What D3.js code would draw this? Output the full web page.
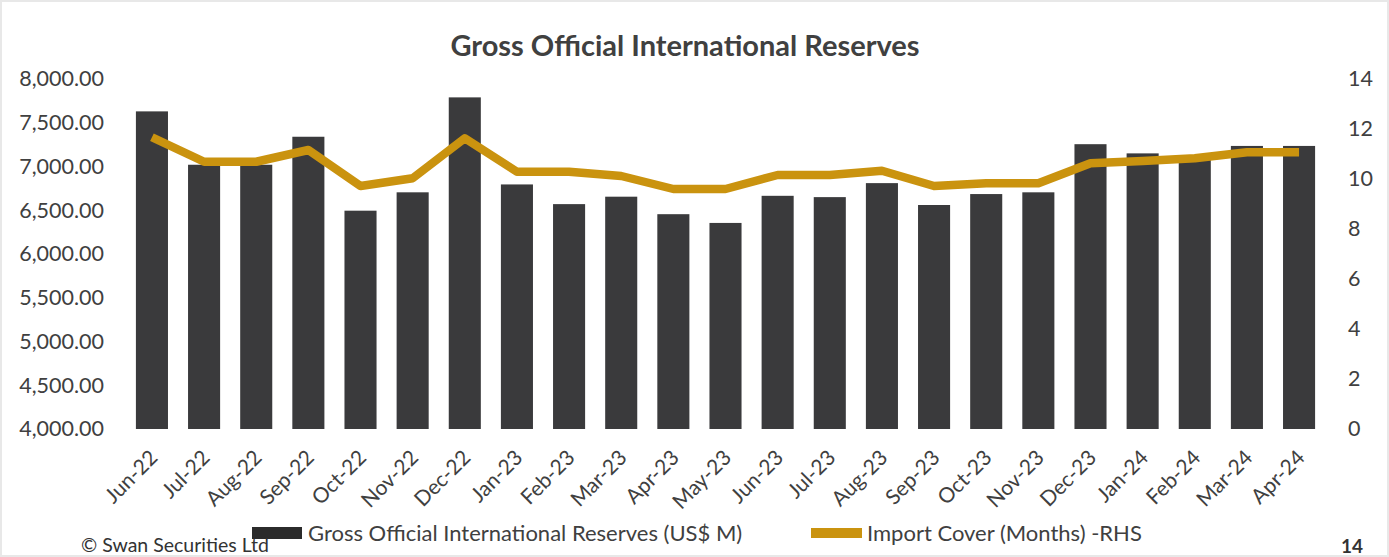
<!DOCTYPE html>
<html>
<head>
<meta charset="utf-8">
<script src="https://cdn.jsdelivr.net/npm/d3@7/dist/d3.min.js"></script>
<style>
  html, body { margin: 0; padding: 0; background: #ffffff; }
  svg { display: block; }
  text { font-family: Lato, "Open Sans", sans-serif; }
</style>
</head>
<body>
<svg id="chart" width="1389" height="557"></svg>
<script>
// Monthly categories
const months = ["Jun-22","Jul-22","Aug-22","Sep-22","Oct-22","Nov-22","Dec-22",
  "Jan-23","Feb-23","Mar-23","Apr-23","May-23","Jun-23","Jul-23","Aug-23",
  "Sep-23","Oct-23","Nov-23","Dec-23","Jan-24","Feb-24","Mar-24","Apr-24"];

// Gross official international reserves, US$ M (left axis)
const reserves = [7630, 7020, 7020, 7340, 6495, 6705, 7790,
  6795, 6570, 6655, 6455, 6355, 6665, 6650, 6810,
  6560, 6685, 6705, 7255, 7150, 7090, 7235, 7235];

// Import cover in months (right axis)
const importCover = [11.67, 10.69, 10.69, 11.16, 9.72, 10.03, 11.63,
  10.29, 10.29, 10.12, 9.6, 9.6, 10.16, 10.16, 10.33,
  9.72, 9.83, 9.83, 10.63, 10.72, 10.83, 11.07, 11.07];

const leftTicks = [4000, 4500, 5000, 5500, 6000, 6500, 7000, 7500, 8000];
const rightTicks = [0, 2, 4, 6, 8, 10, 12, 14];

const title = "Gross Official International Reserves";
const seriesNames = ["Gross Official International Reserves (US$ M)", "Import Cover (Months) -RHS"];

const barColor = "#3a3a3c";
const lineColor = "#ca930f";
const textColor = "#404040";

const svg = d3.select("#chart");
const W = 1389, H = 557;
const plot = { left: 126, right: 1325, top: 79, bottom: 429 };

// faint page frame
svg.append("rect").attr("x", 1).attr("y", 1).attr("width", W - 2).attr("height", H - 2)
  .attr("fill", "none").attr("stroke", "#e8e8e8").attr("stroke-width", 2);

const x = d3.scaleBand().domain(months).range([plot.left, plot.right]).paddingInner(0.385).paddingOuter(0.19);
const yL = d3.scaleLinear().domain([4000, 8000]).range([plot.bottom, plot.top]);
const yR = d3.scaleLinear().domain([0, 14]).range([plot.bottom, plot.top]);

// Title
svg.append("text").attr("x", 685).attr("y", 56).attr("text-anchor", "middle")
  .attr("font-size", 29).attr("font-weight", 700).attr("fill", "#404040").text(title);

// Bars
svg.append("g").selectAll("rect").data(months).join("rect")
  .attr("x", d => x(d))
  .attr("width", x.bandwidth())
  .attr("y", (d, i) => yL(reserves[i]))
  .attr("height", (d, i) => yL(4000) - yL(reserves[i]))
  .attr("fill", barColor);

// Import cover line
const line = d3.line()
  .x((d, i) => x(months[i]) + x.bandwidth() / 2)
  .y(d => yR(d));
svg.append("path").datum(importCover).attr("d", line)
  .attr("fill", "none").attr("stroke", lineColor).attr("stroke-width", 8.5)
  .attr("stroke-linejoin", "round").attr("stroke-linecap", "butt");

// Left axis
const axL = d3.axisLeft(yL).tickValues(leftTicks).tickSize(0).tickPadding(0)
  .tickFormat(d3.format(",.2f"));
const gL = svg.append("g").attr("transform", `translate(104,0)`).call(axL);
gL.select(".domain").remove();
gL.selectAll("text").attr("font-size", 21.5).attr("fill", textColor)
  .attr("font-family", "Lato, sans-serif");

// Right axis
const axR = d3.axisRight(yR).tickValues(rightTicks).tickSize(0).tickPadding(0);
const gR = svg.append("g").attr("transform", `translate(1348,0)`).call(axR);
gR.select(".domain").remove();
gR.selectAll("text").attr("font-size", 21.5).attr("fill", textColor)
  .attr("font-family", "Lato, sans-serif");

// Bottom axis with rotated labels
const axB = d3.axisBottom(x).tickSize(0).tickPadding(0);
const gB = svg.append("g").attr("transform", `translate(0,${plot.bottom})`).call(axB);
gB.select(".domain").remove();
gB.selectAll("text")
  .attr("font-size", 21).attr("fill", textColor)
  .attr("font-family", "Lato, sans-serif")
  .attr("text-anchor", "end")
  .attr("dy", 0)
  .attr("y", 0)
  .attr("transform", "translate(7,30) rotate(-45)");

// Legend
const lg = svg.append("g");
lg.append("rect").attr("x", 252).attr("y", 527).attr("width", 50).attr("height", 12).attr("fill", "#2b2b2b");
lg.append("text").attr("x", 308).attr("y", 541).attr("font-size", 22).attr("fill", textColor).text(seriesNames[0]);
lg.append("rect").attr("x", 811).attr("y", 528).attr("width", 51).attr("height", 10).attr("fill", lineColor);
lg.append("text").attr("x", 867).attr("y", 541).attr("font-size", 22).attr("fill", textColor).text(seriesNames[1]);

// Footer
svg.append("text").attr("x", 81).attr("y", 552).attr("font-size", 19.5).attr("fill", "#333").text("\u00A9 Swan Securities Ltd");
svg.append("text").attr("x", 1363).attr("y", 553).attr("text-anchor", "end").attr("font-size", 19)
  .attr("font-weight", 700).attr("fill", "#333").text("14");
</script>
</body>
</html>
